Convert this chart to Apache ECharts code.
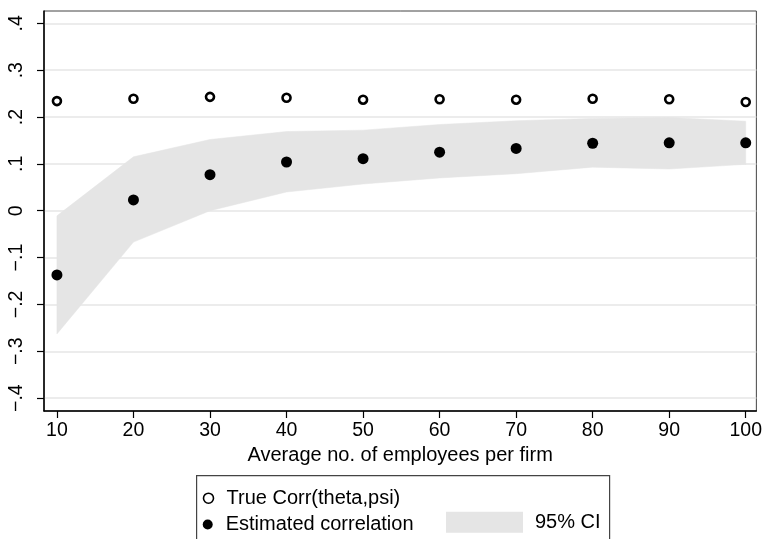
<!DOCTYPE html>
<html>
<head>
<meta charset="utf-8">
<script src="https://cdn.jsdelivr.net/npm/echarts@6/dist/echarts.min.js"></script>
<style>
html,body{margin:0;padding:0;background:#fff;}
#chart{width:765px;height:539px;}
</style>
</head>
<body>
<div id="chart"></div>
<script>
// Data
const firmSize = [10, 20, 30, 40, 50, 60, 70, 80, 90, 100];
const trueCorr = [0.234, 0.239, 0.243, 0.241, 0.237, 0.238, 0.237, 0.239, 0.238, 0.232];
const estCorr  = [-0.137, 0.023, 0.077, 0.104, 0.111, 0.125, 0.133, 0.144, 0.145, 0.145];
const ciLow    = [-0.263, -0.067, 0.000, 0.040, 0.057, 0.070, 0.079, 0.093, 0.089, 0.099];
const ciHigh   = [-0.011, 0.115, 0.152, 0.169, 0.172, 0.184, 0.192, 0.197, 0.199, 0.191];
const xTicks = [10, 20, 30, 40, 50, 60, 70, 80, 90, 100];
const yTicks = [-0.4, -0.3, -0.2, -0.1, 0, 0.1, 0.2, 0.3, 0.4];

const FONT = 'Liberation Sans, Arial, Helvetica, sans-serif';

function fmtY(v) {
  const r = Math.round(v * 10) / 10;
  if (r === 0) return '0';
  let s = Math.abs(r).toString().replace(/^0/, '');
  return (r < 0 ? '\u2212' : '') + s;
}

const pairs = (ys) => firmSize.map((x, i) => [x, ys[i]]);

const legendText = {fontFamily: FONT, fontSize: 20, color: '#000'};

const chart = echarts.init(document.getElementById('chart'), null, {renderer: 'canvas'});
chart.setOption({
  animation: false,
  backgroundColor: '#fff',
  grid: {
    left: 44, right: 4, top: 11, bottom: 128,
    show: true, borderColor: '#444', borderWidth: 1, backgroundColor: 'transparent'
  },
  xAxis: {
    type: 'value',
    min: 8.31, max: 101.39,
    name: 'Average no. of employees per firm',
    nameLocation: 'middle',
    nameGap: 30,
    nameTextStyle: {fontFamily: FONT, fontSize: 20, color: '#000'},
    axisLine: {show: true, onZero: false, lineStyle: {color: '#000', width: 1.5}},
    axisTick: {show: true, length: 7, lineStyle: {color: '#000', width: 1.2}, customValues: xTicks},
    axisLabel: {show: true, margin: 10, fontFamily: FONT, fontSize: 19.5, color: '#000', customValues: xTicks,
      formatter: (v) => String(v)},
    splitLine: {show: false}
  },
  yAxis: {
    type: 'value',
    min: -0.4275, max: 0.4263,
    axisLine: {show: true, onZero: false, lineStyle: {color: '#000', width: 1.5}},
    axisTick: {show: true, length: 7, lineStyle: {color: '#000', width: 1.2}, customValues: yTicks},
    axisLabel: {show: true, rotate: 90, margin: 17, fontFamily: FONT, fontSize: 19.5, color: '#000',
      customValues: yTicks, formatter: fmtY},
    splitLine: {show: true, lineStyle: {color: '#e6e6e6', width: 1.5}}
  },
  legend: [
    {
      orient: 'horizontal', padding: 0,
      left: 202.7, top: 488.2,
      itemWidth: 10, itemHeight: 10,
      textStyle: Object.assign({padding: [0, 0, 0, 8]}, legendText),
      data: [{name: 'True Corr(theta,psi)', icon: 'circle',
        itemStyle: {color: '#fff', borderColor: '#000', borderWidth: 1.6}}],
      selectedMode: false
    },
    {
      orient: 'horizontal', padding: 0,
      left: 202.7, top: 514.5,
      itemWidth: 10, itemHeight: 10,
      textStyle: Object.assign({padding: [0, 0, 0, 8]}, legendText),
      data: [{name: 'Estimated correlation', icon: 'circle',
        itemStyle: {color: '#000', borderWidth: 0}}],
      selectedMode: false
    },
    {
      orient: 'horizontal', padding: 0,
      left: 446, top: 511.7,
      itemWidth: 77, itemHeight: 21,
      textStyle: Object.assign({padding: [0, 0, 0, 7]}, legendText),
      data: [{name: '95% CI', icon: 'rect', itemStyle: {color: '#e5e5e5', borderWidth: 0}}],
      selectedMode: false
    }
  ],
  graphic: [
    {type: 'rect', left: 196, top: 475, z: -1,
      shape: {width: 413, height: 90},
      style: {fill: 'transparent', stroke: '#444', lineWidth: 1.2}}
  ],
  series: [
    {
      name: '95% CI', type: 'custom', silent: true, z: 1,
      color: '#e5e5e5',
      itemStyle: {color: '#e5e5e5'},
      data: firmSize.map((x, i) => [x, ciLow[i], ciHigh[i]]),
      encode: {x: 0, y: [1, 2]},
      renderItem: function (params, api) {
        if (params.dataIndex !== 0) return null;
        const upper = firmSize.map((x, j) => api.coord([x, ciHigh[j]]));
        const lower = firmSize.map((x, j) => api.coord([x, ciLow[j]])).reverse();
        return {
          type: 'polygon',
          shape: {points: upper.concat(lower)},
          style: {fill: '#e5e5e5', stroke: '#e5e5e5', lineWidth: 0.5}
        };
      }
    },
    {
      name: 'True Corr(theta,psi)', type: 'scatter',
      data: pairs(trueCorr), symbol: 'circle', symbolSize: 8,
      itemStyle: {color: '#fff', borderColor: '#000', borderWidth: 2.6, opacity: 1}, z: 3
    },
    {
      name: 'Estimated correlation', type: 'scatter',
      data: pairs(estCorr), symbol: 'circle', symbolSize: 11,
      itemStyle: {color: '#000', opacity: 1}, z: 3
    }
  ]
});
</script>
</body>
</html>
